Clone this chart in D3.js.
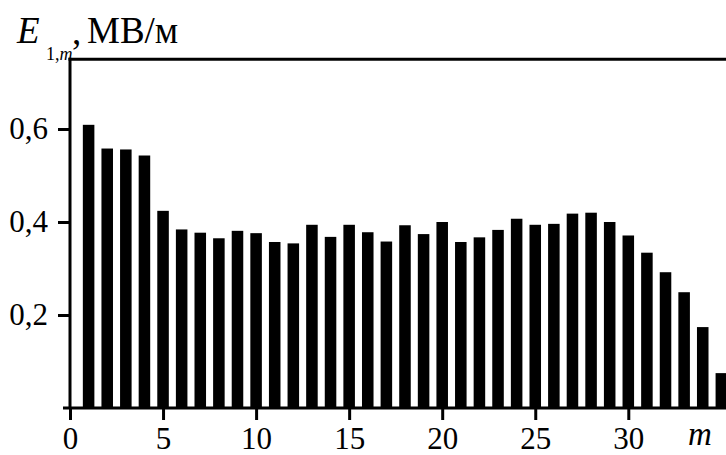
<!DOCTYPE html>
<html>
<head>
<meta charset="utf-8">
<script src="https://cdn.jsdelivr.net/npm/d3@7"></script>
<style>
  html, body { margin: 0; padding: 0; background: #fff; }
  svg { display: block; }
</style>
</head>
<body>
<svg id="chart" width="726" height="455"></svg>
<script>
// Harmonic number m and field amplitude E_{1,m}, MV/m
const harmonics = d3.range(1, 36);
const fieldValues = [
  0.609, 0.558, 0.556, 0.543, 0.424, 0.384, 0.377, 0.365, 0.381, 0.376,
  0.357, 0.354, 0.394, 0.368, 0.394, 0.378, 0.358, 0.393, 0.374, 0.400,
  0.357, 0.367, 0.383, 0.407, 0.394, 0.396, 0.418, 0.420, 0.400, 0.371,
  0.334, 0.292, 0.249, 0.174, 0.075
];
const xTicks = [0, 5, 10, 15, 20, 25, 30];
const yTicks = [0.2, 0.4, 0.6];

const FONT = "Liberation Serif";
const plotLeft = 70, plotRight = 726, plotTop = 59.25, plotBottom = 408;

const svg = d3.select("#chart");
const x = d3.scaleLinear().domain([0, 35.25]).range([plotLeft, plotRight]);
const y = d3.scaleLinear().domain([0, 0.75]).range([plotBottom, plotTop]);

// Decimal comma for the value axis
const commaFmt = d3.formatLocale({ decimal: ",", thousands: " ", grouping: [3], currency: ["", ""] }).format(".1f");

// Bars
const barW = x(0.62) - x(0);
svg.append("g").selectAll("rect")
  .data(harmonics)
  .join("rect")
  .attr("x", (m) => x(m) - barW / 2)
  .attr("y", (m, i) => y(fieldValues[i]))
  .attr("width", barW)
  .attr("height", (m, i) => y(0) - y(fieldValues[i]))
  .attr("fill", "#000");

// X axis
const xAxis = d3.axisBottom(x).tickValues(xTicks).tickSize(12).tickPadding(7).tickFormat(d3.format("d"));
const gx = svg.append("g").attr("transform", `translate(0,${plotBottom})`).call(xAxis);
gx.select(".domain").remove();
gx.selectAll(".tick line").attr("stroke", "#000").attr("stroke-width", 3);
gx.selectAll(".tick text").style("font-size", "31px").style("font-family", FONT).attr("fill", "#000");

// Y axis
const yAxis = d3.axisLeft(y).tickValues(yTicks).tickSize(12).tickPadding(10).tickFormat(commaFmt);
const gy = svg.append("g").attr("transform", `translate(${plotLeft},0)`).call(yAxis);
gy.select(".domain").remove();
gy.selectAll(".tick line").attr("stroke", "#000").attr("stroke-width", 3);
gy.selectAll(".tick text").style("font-size", "31px").style("font-family", FONT).attr("fill", "#000");

// Frame lines: bottom, left, top
svg.append("line").attr("x1", plotLeft - 7).attr("x2", plotRight).attr("y1", plotBottom).attr("y2", plotBottom)
  .attr("stroke", "#000").attr("stroke-width", 3);
svg.append("line").attr("x1", plotLeft).attr("x2", plotLeft).attr("y1", plotTop - 1.5).attr("y2", plotBottom)
  .attr("stroke", "#000").attr("stroke-width", 3);
svg.append("line").attr("x1", plotLeft - 1.5).attr("x2", plotRight).attr("y1", plotTop).attr("y2", plotTop)
  .attr("stroke", "#000").attr("stroke-width", 3);

// Value axis title: E_{1,m}, МВ/м
const yTitle = svg.append("text").style("font-family", FONT).style("font-size", "37px").attr("fill", "#000");
yTitle.append("tspan").attr("x", 17).attr("y", 43).style("font-style", "italic").text("E");
yTitle.append("tspan").attr("x", 46).attr("y", 60).style("font-size", "18px").text("1,");
yTitle.append("tspan").style("font-size", "18px").style("font-style", "italic").text("m");
yTitle.append("tspan").attr("x", 72).attr("y", 44).text(",");
yTitle.append("tspan").attr("x", 87).attr("y", 43).text("МВ/м");

// Harmonic axis title
svg.append("text").attr("x", 688).attr("y", 445)
  .style("font-family", FONT).style("font-size", "33px").style("font-style", "italic").attr("fill", "#000")
  .text("m");
</script>
</body>
</html>
